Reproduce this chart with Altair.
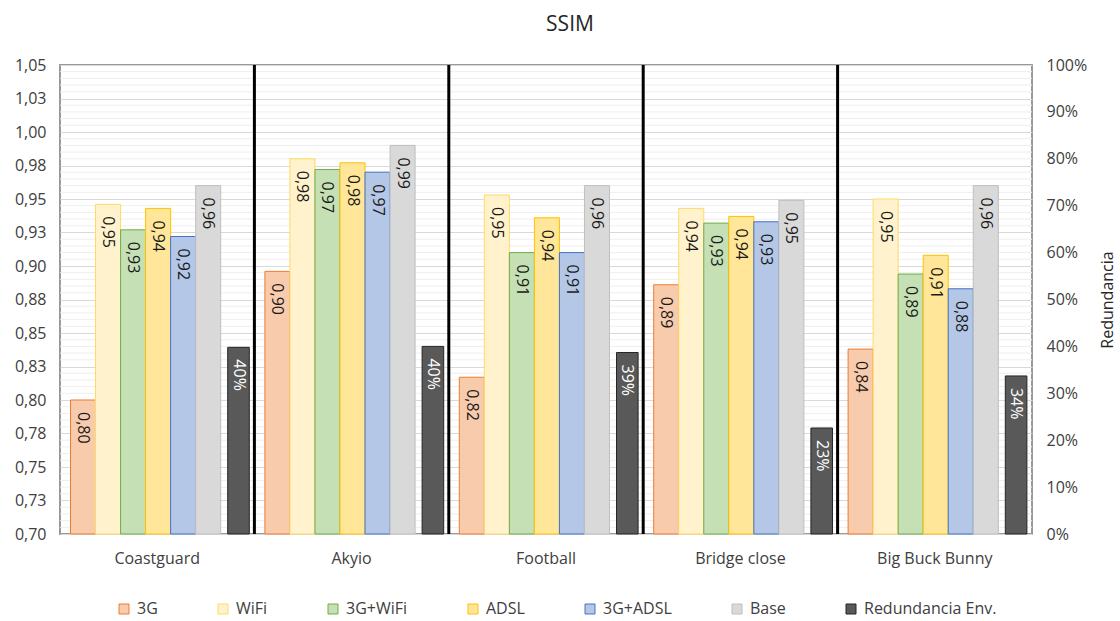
import altair as alt
import pandas as pd

FONT = "Open Sans"
TEXT_COLOR = "#404040"

# Video sequences and transmission configurations
categories = ["Coastguard", "Akyio", "Football", "Bridge close", "Big Buck Bunny"]
series_names = ["3G", "WiFi", "3G+WiFi", "ADSL", "3G+ADSL", "Base"]
redundancy_name = "Redundancia Env."

# SSIM per configuration (one value per sequence)
ssim_3g = [0.800, 0.896, 0.817, 0.886, 0.838]
ssim_wifi = [0.946, 0.980, 0.953, 0.943, 0.950]
ssim_3g_wifi = [0.927, 0.972, 0.910, 0.932, 0.894]
ssim_adsl = [0.943, 0.977, 0.936, 0.937, 0.908]
ssim_3g_adsl = [0.922, 0.970, 0.910, 0.933, 0.883]
ssim_base = [0.960, 0.990, 0.960, 0.949, 0.960]

# Share of redundant data sent (secondary axis)
redundancia_env = [0.398, 0.400, 0.387, 0.226, 0.337]

# Axis ticks
left_ticks = [0.70, 0.725, 0.75, 0.775, 0.80, 0.825, 0.85, 0.875,
              0.90, 0.925, 0.95, 0.975, 1.00, 1.025, 1.05]
right_ticks = [0.0, 0.1, 0.2, 0.3, 0.4, 0.5, 0.6, 0.7, 0.8, 0.9, 1.0]
minor_ticks = [round(0.70 + i * 0.005, 3) for i in range(1, 70) if i % 5]

fill_colors = ["#F8CBAD", "#FFF2CC", "#C5E0B4", "#FFE699", "#B4C7E7", "#D9D9D9", "#595959"]
stroke_colors = ["#ED7D31", "#FFD966", "#70AD47", "#FFC000", "#4472C4", "#BFBFBF", "#262626"]

ssim_values = [ssim_3g, ssim_wifi, ssim_3g_wifi, ssim_adsl, ssim_3g_adsl, ssim_base]
ssim_df = pd.DataFrame(
    [
        {"categoria": cat, "serie": name, "ssim": vals[i]}
        for name, vals in zip(series_names, ssim_values)
        for i, cat in enumerate(categories)
    ]
)
red_df = pd.DataFrame(
    {"categoria": categories, "serie": [redundancy_name] * len(categories), "red": redundancia_env}
)
minor_df = pd.DataFrame({"ssim": minor_ticks})
sep_df = pd.DataFrame({"categoria": categories[:-1]})

all_series = series_names + [redundancy_name]
fill_scale = alt.Scale(domain=all_series, range=fill_colors)
stroke_scale = alt.Scale(domain=all_series, range=stroke_colors)

legend = alt.Legend(
    title=None,
    orient="none",
    direction="horizontal",
    columns=7,
    legendX=56,
    legendY=536,
    symbolType="square",
    symbolSize=100,
    symbolStrokeWidth=1,
    labelFont=FONT,
    labelFontSize=16,
    labelColor=TEXT_COLOR,
    labelOffset=5,
    columnPadding=57,
)

x_axis = alt.Axis(
    title=None,
    labelAngle=0,
    ticks=False,
    domain=False,
    labelPadding=16,
    labelFont=FONT,
    labelFontSize=16,
    labelColor=TEXT_COLOR,
)
x_scale = alt.Scale(domain=categories, paddingInner=0, paddingOuter=0)
x_enc = alt.X("categoria:N", scale=x_scale, axis=x_axis)

y_left_scale = alt.Scale(domain=[0.70, 1.05], zero=False, nice=False, clamp=True)
y_left_axis = alt.Axis(
    title=None,
    values=left_ticks,
    labelExpr="replace(format(datum.value + 0.000001, '.2f'), '.', ',')",
    ticks=False,
    domain=False,
    grid=True,
    gridColor="#D9D9D9",
    gridWidth=1,
    labelPadding=14,
    labelFont=FONT,
    labelFontSize=16,
    labelColor=TEXT_COLOR,
)
y_left = alt.Y("ssim:Q", scale=y_left_scale, axis=y_left_axis)

xoff_main = alt.XOffset(
    "serie:N",
    scale=alt.Scale(domain=series_names, range=[10.5, 160.7], paddingInner=0, paddingOuter=0),
)

minor_grid = alt.Chart(minor_df).mark_rule(color="#EEEEEE", strokeWidth=1).encode(y=y_left)

ssim_bars = alt.Chart(ssim_df).mark_bar(strokeWidth=1).encode(
    x=x_enc,
    xOffset=xoff_main,
    y=y_left,
    fill=alt.Fill("serie:N", scale=fill_scale, legend=legend),
    stroke=alt.Stroke("serie:N", scale=stroke_scale, legend=legend),
)

# Value labels written down the inside of each bar, decimal comma
ssim_labels = ssim_bars.mark_text(
    angle=90, align="left", baseline="middle", dx=12,
    font=FONT, fontSize=16, color="#1A1A1A",
).encode(
    text=alt.Text("label:N"),
    fill=alt.value("#1A1A1A"),
    stroke=alt.StrokeValue(value=None),
).transform_calculate(label="replace(format(datum.ssim, '.2f'), '.', ',')")

ssim_layer = alt.layer(minor_grid, ssim_bars, ssim_labels)

y_right = alt.Y(
    "red:Q",
    scale=alt.Scale(domain=[0, 1], nice=False),
    axis=alt.Axis(
        orient="right",
        title="Redundancia",
        titleAngle=270,
        titleFont=FONT,
        titleFontSize=16,
        titleFontWeight="normal",
        titleColor="#262626",
        titlePadding=29,
        values=right_ticks,
        format=".0%",
        grid=False,
        ticks=False,
        domain=False,
        labelPadding=14,
        labelFont=FONT,
        labelFontSize=16,
        labelColor=TEXT_COLOR,
    ),
)
xoff_red = alt.XOffset(
    "serie:N",
    scale=alt.Scale(domain=[redundancy_name], range=[167.7, 189.3], paddingInner=0, paddingOuter=0),
)

red_bars = alt.Chart(red_df).mark_bar(strokeWidth=1).encode(
    x=x_enc,
    xOffset=xoff_red,
    y=y_right,
    fill=alt.Fill("serie:N", scale=fill_scale, legend=legend),
    stroke=alt.Stroke("serie:N", scale=stroke_scale, legend=legend),
)
red_labels = alt.Chart(red_df).mark_text(
    angle=90, align="left", baseline="middle", dx=12,
    font=FONT, fontSize=16, color="white",
).encode(
    x=x_enc,
    xOffset=xoff_red,
    y=y_right,
    text=alt.Text("red:Q", format=".0%"),
)
red_layer = alt.layer(red_bars, red_labels)

# Black dividers between the video sequences
separators = alt.Chart(sep_df).mark_rule(color="black", strokeWidth=3).encode(
    x=alt.X("categoria:N", scale=x_scale, axis=x_axis, bandPosition=1),
)

chart = (
    alt.layer(ssim_layer, red_layer, separators)
    .resolve_scale(y="independent", xOffset="independent")
    .properties(
        width=972,
        height=469,
        autosize=alt.AutoSizeParams(type="none"),
        padding={"left": 60, "top": 65, "right": 88, "bottom": 87},
        title=alt.Title(
            "SSIM", font=FONT, fontSize=21, fontWeight="normal",
            color="#262626", anchor="middle", dx=24, offset=22,
        ),
    )
    .configure_view(stroke="#999999", strokeWidth=2)
)

chart.save("out.html", embed_options={"renderer": "svg", "actions": False})
